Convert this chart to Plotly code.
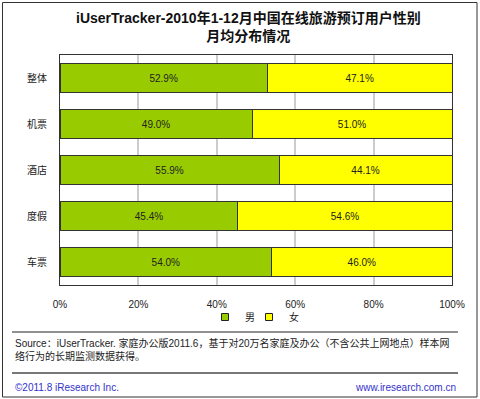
import plotly.graph_objects as go

categories = ["整体", "机票", "酒店", "度假", "车票"]
male = [52.9, 49.0, 55.9, 45.4, 54.0]
female = [47.1, 51.0, 44.1, 54.6, 46.0]
tick_vals = [0, 20, 40, 60, 80, 100]
tick_text = ["0%", "20%", "40%", "60%", "80%", "100%"]

FONT = "Liberation Sans, Noto Sans CJK SC, sans-serif"
L, R, T, B = 60, 28, 55, 114
W, H = 480, 399
PW, PH = W - L - R, H - T - B
GREEN, YELLOW = "#99CC00", "#FFFF00"

def px(x):
    return (x - L) / PW

def py(y):
    return (H - B - y) / PH

fig = go.Figure()
fig.add_trace(go.Bar(
    y=categories, x=male, orientation="h", name="男", showlegend=False,
    marker=dict(color=GREEN, line=dict(color="#333333", width=1)),
    text=[f"{v:.1f}%" for v in male], textposition="inside",
    insidetextanchor="middle", textfont=dict(size=10, color="#222222", family=FONT),
))
fig.add_trace(go.Bar(
    y=categories, x=female, orientation="h", name="女", showlegend=False,
    marker=dict(color=YELLOW, line=dict(color="#333333", width=1)),
    text=[f"{v:.1f}%" for v in female], textposition="inside",
    insidetextanchor="middle", textfont=dict(size=10, color="#222222", family=FONT),
))
# legend proxies with small square symbols, one legend box each
for name, col, leg in (("男", GREEN, "legend"), ("女", YELLOW, "legend2")):
    fig.add_trace(go.Scatter(
        x=[None], y=[None], mode="markers", name=name, legend=leg,
        marker=dict(symbol="square", size=7, color=col, line=dict(color="#222222", width=1)),
    ))

legend_common = dict(orientation="h", xanchor="left", y=py(317), yanchor="middle",
                     font=dict(size=10), itemwidth=30, bgcolor="rgba(0,0,0,0)")

fig.update_layout(
    width=W, height=H, barmode="stack", bargap=0.39,
    margin=dict(l=L, r=R, t=T, b=B),
    paper_bgcolor="white", plot_bgcolor="white",
    font=dict(family=FONT, size=10, color="#222222"),
    showlegend=True,
    legend=dict(x=px(205), **legend_common),
    legend2=dict(x=px(249), **legend_common),
    xaxis=dict(range=[0, 100], tickvals=tick_vals, ticktext=tick_text,
               showgrid=True, gridcolor="#CCCCCC", gridwidth=1.5,
               showline=True, linecolor="#333333", linewidth=1, mirror=True,
               zeroline=False, ticks="", ticklen=0, tickfont=dict(size=10),
               ticklabelstandoff=10),
    yaxis=dict(categoryorder="array", categoryarray=categories[::-1],
               showline=True, linecolor="#333333", linewidth=1, mirror=True,
               ticks="", ticklen=0, tickfont=dict(size=10), ticklabelstandoff=10),
)

fig.add_annotation(
    text="<b>iUserTracker-2010年1-12月中国在线旅游预订用户性别<br>月均分布情况</b>",
    x=px(248), y=py(27), xref="paper", yref="paper", xanchor="center", yanchor="middle",
    showarrow=False, font=dict(size=14, color="#111111", family=FONT),
)
fig.add_annotation(
    text="Source：iUserTracker. 家庭办公版2011.6，基于对20万名家庭及办公（不含公共上网地点）样本网<br>络行为的长期监测数据获得。",
    x=px(13), y=py(349), xref="paper", yref="paper", xanchor="left", yanchor="middle",
    align="left", showarrow=False, font=dict(size=10, color="#222222", family=FONT),
)
fig.add_annotation(
    text="©2011.8 iResearch Inc.", x=px(13), y=py(387), xref="paper", yref="paper",
    xanchor="left", yanchor="middle", showarrow=False,
    font=dict(size=10, color="#3333CC", family=FONT),
)
fig.add_annotation(
    text="www.iresearch.com.cn", x=px(458), y=py(387), xref="paper", yref="paper",
    xanchor="right", yanchor="middle", showarrow=False,
    font=dict(size=10, color="#3333CC", family=FONT),
)

# outer border and separator lines
fig.add_shape(type="rect", xref="paper", yref="paper",
              x0=px(2.5), x1=px(477), y0=py(397), y1=py(2.5),
              line=dict(color="#333333", width=1))
fig.add_shape(type="line", xref="paper", yref="paper",
              x0=px(12), x1=px(458), y0=py(332), y1=py(332),
              line=dict(color="#222222", width=1))
fig.add_shape(type="line", xref="paper", yref="paper",
              x0=px(12), x1=px(458), y0=py(373), y1=py(373),
              line=dict(color="#777777", width=2))

fig.write_html("out.html", config={"displayModeBar": False},
               post_script="document.body.style.margin='0';")
